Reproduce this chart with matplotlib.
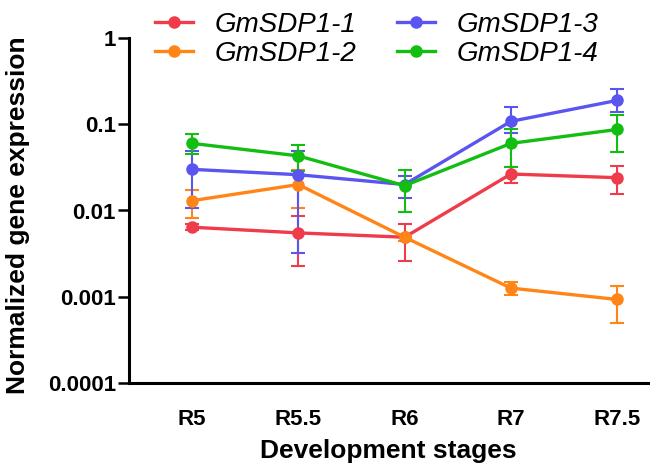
import numpy as np
import matplotlib.pyplot as plt

plt.rcParams['font.family'] = ['Liberation Sans', 'DejaVu Sans']

stages = ['R5', 'R5.5', 'R6', 'R7', 'R7.5']

# mean expression per gene
sdp1_1 = [0.0064, 0.0055, 0.0049, 0.0265, 0.024]
sdp1_2 = [0.013, 0.020, 0.0049, 0.00126, 0.00093]
sdp1_3 = [0.030, 0.026, 0.020, 0.108, 0.189]
sdp1_4 = [0.060, 0.043, 0.0194, 0.060, 0.087]

# error bar ends (low, high)
sdp1_1_lo = [0.0060, 0.0023, 0.0026, 0.0206, 0.0156]
sdp1_1_hi = [0.0069, 0.0087, 0.0069, 0.032, 0.033]
sdp1_2_lo = [0.0082, 0.0106, 0.0044, 0.00105, 0.0005]
sdp1_2_hi = [0.0174, 0.0296, 0.0054, 0.00149, 0.00135]
sdp1_3_lo = [0.0107, 0.0032, 0.014, 0.08, 0.14]
sdp1_3_hi = [0.049, 0.049, 0.0248, 0.157, 0.255]
sdp1_4_lo = [0.045, 0.029, 0.0096, 0.032, 0.048]
sdp1_4_hi = [0.077, 0.058, 0.0295, 0.089, 0.129]

series = [
    ('GmSDP1-1', sdp1_1, sdp1_1_lo, sdp1_1_hi, '#EF3B4A'),
    ('GmSDP1-2', sdp1_2, sdp1_2_lo, sdp1_2_hi, '#FF8517'),
    ('GmSDP1-3', sdp1_3, sdp1_3_lo, sdp1_3_hi, '#5A55F0'),
    ('GmSDP1-4', sdp1_4, sdp1_4_lo, sdp1_4_hi, '#13BE13'),
]

fig = plt.figure(figsize=(6.5, 4.69), dpi=100)
ax = fig.add_axes([129 / 650, 1 - 383 / 469, 519 / 650, 345 / 469])

x = np.arange(len(stages))
for name, y, lo, hi, c in series:
    y = np.array(y)
    err = [y - np.array(lo), np.array(hi) - y]
    ax.errorbar(x, y, yerr=err, color=c, lw=2.4, marker='o', ms=8,
                elinewidth=1.5, capsize=4.7, capthick=1.5, label=name)

ax.set_yscale('log')
ax.set_ylim(1e-4, 1)
ax.set_xlim(-0.593, 4.29)
ax.set_yticks([1e-4, 1e-3, 1e-2, 1e-1, 1])
ax.set_yticklabels(['0.0001', '0.001', '0.01', '0.1', '1'])
ax.yaxis.set_minor_locator(plt.NullLocator())
ax.set_xticks(x)
ax.set_xticklabels(stages)

for s in ['top', 'right']:
    ax.spines[s].set_visible(False)
for s in ['left', 'bottom']:
    ax.spines[s].set_linewidth(2.2)
ax.tick_params(axis='y', length=8, width=1.8, labelsize=16, pad=1.5)
ax.tick_params(axis='x', length=0, labelsize=16, pad=19)
for lab in ax.get_xticklabels() + ax.get_yticklabels():
    lab.set_fontweight('bold')

ax.set_xlabel('Development stages', fontsize=19, fontweight='bold', labelpad=6)
ax.set_ylabel('Normalized gene expression', fontsize=19, fontweight='bold')
ax.yaxis.set_label_coords(-0.19, 0.485)

leg_handles = [plt.Line2D([], [], color=c, lw=2.4, marker='o', ms=8) for _, _, _, _, c in series]
fig.legend(leg_handles, [s[0] for s in series], loc='upper left',
           bbox_to_anchor=(141 / 650, 1 + 2 / 469), ncol=2, frameon=False,
           borderpad=0, prop={'style': 'italic', 'size': 20},
           handlelength=1.36, handletextpad=0.8, columnspacing=1.45, labelspacing=0.1)

fig.savefig('out.png', dpi=100)
